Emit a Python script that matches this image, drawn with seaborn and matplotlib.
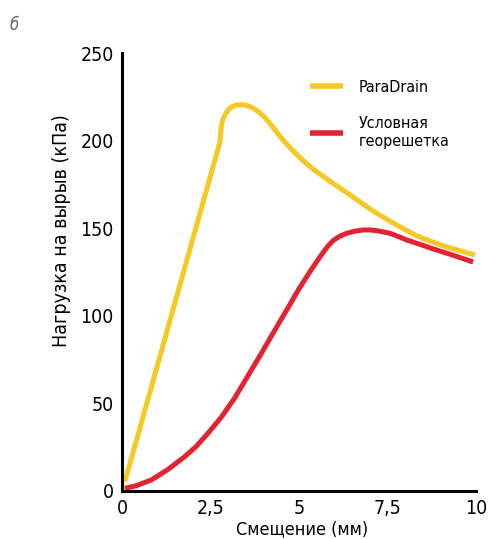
import matplotlib
matplotlib.use("Agg")
import matplotlib.pyplot as plt
import seaborn as sns
import pandas as pd

# ---- data ----
para_x = [0.08, 0.5, 1.0, 1.5, 2.0, 2.5, 2.77, 2.785, 2.81, 2.86, 2.91, 2.98, 3.05,
          3.15, 3.25, 3.33, 3.45, 3.62, 3.8, 3.99, 4.13, 4.27, 4.42, 4.56, 4.8, 5.03,
          5.25, 5.5, 6.0, 6.5, 7.1, 7.7, 8.32, 9.0, 9.5, 9.97]
para_y = [5.3, 35.5, 71.7, 107.8, 144, 180, 199.6, 204, 209, 212.8, 214.9, 217,
          218.7, 219.9, 220.5, 220.6, 220.5, 219.6, 217.5, 214.2, 211.2, 207.6, 203.6,
          200.2, 195, 190.4, 186.3, 182.3, 175.2, 168.3, 159.8, 152.6, 145.8, 140.5,
          137.5, 134.8]
geo_x = [0.08, 0.4, 0.83, 1.3, 1.77, 2.1, 2.43, 2.8, 3.18, 3.55, 3.94, 4.32, 4.7,
         5.0, 5.31, 5.5, 5.69, 5.83, 5.97, 6.15, 6.35, 6.58, 6.82, 7.0, 7.19, 7.38,
         7.57, 7.8, 8.04, 8.4, 8.8, 9.3, 9.92]
geo_y = [1.5, 3, 6.3, 12.3, 19.6, 25.5, 33, 42, 53, 65.5, 78.7, 92, 105, 115.5,
         125.3, 131, 136.5, 140.2, 143.1, 145.5, 147.2, 148.4, 149.1, 149.1, 148.7,
         148, 147.2, 145.4, 143.4, 141, 138.2, 135, 130.8]
series_names = ["ParaDrain", "Условная\nгеорешетка"]
series_colors = ["#F6C823", "#E42232"]
x_ticks = [0, 2.5, 5, 7.5, 10]
x_tick_labels = ["0", "2,5", "5", "7,5", "10"]
y_ticks = [0, 50, 100, 150, 200, 250]
x_label = "Смещение (мм)"
y_label = "Нагрузка на вырыв (кПа)"
panel_letter = "б"

df = pd.concat([
    pd.DataFrame({"x": para_x, "y": para_y, "s": series_names[0]}),
    pd.DataFrame({"x": geo_x, "y": geo_y, "s": series_names[1]}),
], ignore_index=True)

sns.set_theme(style="white")
plt.rcParams["font.family"] = ["DejaVu Sans"]
plt.rcParams["font.stretch"] = "condensed"

fig = plt.figure(figsize=(4.88, 5.39), dpi=100)
ax = fig.add_axes([0.25, 0.0891, 0.7254, 0.812])

sns.lineplot(data=df, x="x", y="y", hue="s", palette=series_colors,
             sort=False, linewidth=3.6, ax=ax, legend=True)
for ln in ax.lines:
    ln.set_clip_on(False)
    ln.set_solid_capstyle("butt")
    ln.set_solid_joinstyle("round")

ax.set_xlim(0, 10)
ax.set_ylim(0, 250)
ax.set_xticks(x_ticks)
ax.set_xticklabels(x_tick_labels)
ax.set_yticks(y_ticks)

for side in ["top", "right"]:
    ax.spines[side].set_visible(False)
for side in ["left", "bottom"]:
    ax.spines[side].set_linewidth(2.2)
    ax.spines[side].set_color("black")

ax.tick_params(axis="both", direction="in", length=7, width=2.2,
               color="black", labelsize=14, labelcolor="black")
ax.tick_params(axis="x", pad=6)
ax.tick_params(axis="y", pad=6)

ax.set_xlabel(x_label, fontsize=13, color="black")
ax.set_ylabel(y_label, fontsize=14, color="black")
ax.yaxis.set_label_coords(-0.145, 0.594)
ax.xaxis.set_label_coords(0.51, -0.066)

leg = ax.legend(frameon=False, loc="upper left", bbox_to_anchor=(0.531, 0.94),
                fontsize=11.5, handlelength=2.05, handletextpad=1.0,
                labelspacing=1.35, borderpad=0, borderaxespad=0)
for h in leg.get_lines():
    h.set_linewidth(4)
for t in leg.get_texts():
    t.set_color("black")

fig.text(0.02, 0.945, panel_letter, fontsize=12, style="italic", color="#666666")

fig.savefig("out.png", dpi=100, facecolor="white")
